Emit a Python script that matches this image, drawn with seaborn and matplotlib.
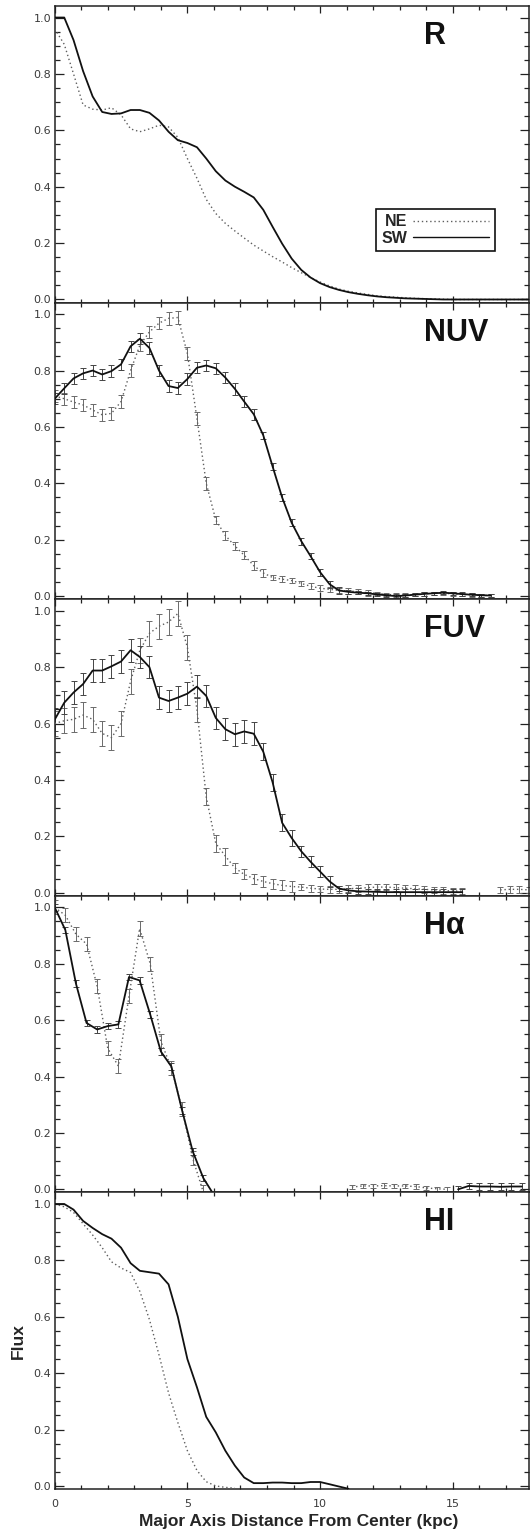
import numpy as np
import pandas as pd
import seaborn as sns
import matplotlib
matplotlib.use('Agg')
import matplotlib.pyplot as plt
from matplotlib.lines import Line2D
from matplotlib.ticker import MultipleLocator, FormatStrFormatter

nan = np.nan

# radial sampling (kpc)
X = [0.00, 0.36, 0.71, 1.07, 1.43, 1.79, 2.14, 2.50, 2.86, 3.21, 3.57, 3.93,
     4.29, 4.64, 5.00, 5.36, 5.71, 6.07, 6.43, 6.79, 7.14, 7.50, 7.86, 8.21,
     8.57, 8.93, 9.29, 9.64, 10.00, 10.36, 10.71, 11.07, 11.43, 11.79, 12.14,
     12.50, 12.86, 13.21, 13.57, 13.93, 14.29, 14.64, 15.00, 15.36, 15.71,
     16.07, 16.43, 16.79, 17.14, 17.50, 17.86]
X_HA = [0.0, 0.4, 0.8, 1.2, 1.6, 2.0, 2.4, 2.8, 3.2, 3.6, 4.0, 4.4, 4.8, 5.2,
        5.6, 6.0, 6.4, 6.8, 7.2, 7.6, 8.0, 8.4, 8.8, 9.2, 9.6, 10.0, 10.4,
        10.8, 11.2, 11.6, 12.0, 12.4, 12.8, 13.2, 13.6, 14.0, 14.4, 14.8, 15.2,
        15.6, 16.0, 16.4, 16.8, 17.2, 17.6]

# R band
R_NE = [0.96, 0.905, 0.80, 0.69, 0.675, 0.672, 0.68, 0.655, 0.605, 0.595,
        0.605, 0.618, 0.612, 0.575, 0.50, 0.43, 0.355, 0.305, 0.27, 0.243,
        0.218, 0.193, 0.172, 0.152, 0.133, 0.113, 0.095, 0.078, 0.062, 0.048,
        0.037, 0.029, 0.023, 0.018, 0.013, 0.010, 0.008, 0.006, 0.004, 0.003,
        0.002, 0.001, 0.0, 0.0, 0.0, 0.0, 0.0, 0.0, 0.0, 0.0, 0.0]
R_SW = [1.0, 1.0, 0.92, 0.81, 0.72, 0.665, 0.658, 0.66, 0.672, 0.672, 0.662,
        0.635, 0.595, 0.565, 0.555, 0.54, 0.50, 0.455, 0.422, 0.40, 0.382,
        0.362, 0.318, 0.258, 0.198, 0.145, 0.105, 0.078, 0.058, 0.044, 0.034,
        0.026, 0.020, 0.015, 0.011, 0.008, 0.006, 0.004, 0.003, 0.002, 0.001,
        0.0, 0.0, 0.0, 0.0, 0.0, 0.0, 0.0, 0.0, 0.0, 0.0]

# NUV
NUV_NE = [0.71, 0.70, 0.688, 0.678, 0.66, 0.643, 0.648, 0.69, 0.80, 0.89, 0.937,
          0.968, 0.985, 0.988, 0.86, 0.63, 0.40, 0.27, 0.215, 0.178, 0.145,
          0.108, 0.082, 0.066, 0.06, 0.055, 0.045, 0.035, 0.028, 0.024, 0.02,
          0.018, 0.016, 0.012, 0.01, 0.006, 0.004, 0.004, 0.006, 0.008, 0.01,
          0.01, 0.008, 0.006, 0.004, 0.003, 0.002]
NUV_NE_ERR = [0.022] * 17 + [0.015] * 6 + [0.01] * 11 + [0.006] * 13
NUV_SW = [0.70, 0.737, 0.772, 0.79, 0.80, 0.786, 0.798, 0.822, 0.886, 0.913, 0.88,
          0.80, 0.745, 0.738, 0.77, 0.81, 0.818, 0.808, 0.775, 0.735, 0.69,
          0.645, 0.57, 0.46, 0.35, 0.26, 0.195, 0.142, 0.085, 0.042, 0.02,
          0.015, 0.012, 0.01, 0.006, 0.003, 0.0, 0.002, 0.005, 0.008, 0.01,
          0.012, 0.01, 0.007, 0.005, 0.003, 0.002]
NUV_SW_ERR = [0.02] * 22 + [0.012] * 9 + [0.006] * 16

# FUV
FUV_NE = [0.60, 0.61, 0.615, 0.63, 0.615, 0.565, 0.55, 0.60, 0.75, 0.86, 0.92,
          0.945, 0.96, 0.99, 0.87, 0.65, 0.34, 0.175, 0.13, 0.088, 0.065,
          0.05, 0.04, 0.032, 0.026, 0.022, 0.02, 0.016, 0.013, 0.012, 0.012,
          0.014, 0.016, 0.018, 0.02, 0.02, 0.018, 0.016, 0.014, 0.012, 0.01,
          0.008, 0.006, 0.006, nan, nan, nan, 0.01, 0.012, 0.012, 0.01]
FUV_NE_ERR = [0.045] * 16 + [0.03] * 3 + [0.018] * 7 + [0.012] * 25
FUV_SW = [0.614, 0.674, 0.71, 0.74, 0.788, 0.788, 0.803, 0.82, 0.86, 0.836, 0.80,
          0.692, 0.68, 0.692, 0.706, 0.731, 0.698, 0.62, 0.58, 0.562, 0.572,
          0.564, 0.50, 0.392, 0.248, 0.194, 0.147, 0.11, 0.075, 0.04, 0.015,
          0.008, 0.005, 0.004, 0.003, 0.002, 0.002, 0.002, 0.002, 0.002, 0.002,
          0.002, 0.002, 0.002]
FUV_SW_ERR = [0.04] * 22 + [0.03] * 4 + [0.02] * 4 + [0.01] * 14

# H-alpha
HA_NE = ([1.0, 0.972, 0.905, 0.87, 0.72, 0.50, 0.437, 0.685, 0.925, 0.80,
          0.525, 0.43, 0.285, 0.11, -0.01] + [nan] * 13 +
         [0.008, 0.012, 0.012, 0.013, 0.012, 0.012, 0.01, 0.005, 0.002, 0.0])
HA_NE_ERR = [0.025] * 15 + [0.008] * 23
HA_SW = ([1.0, 0.92, 0.73, 0.59, 0.567, 0.579, 0.585, 0.753, 0.741, 0.62,
          0.489, 0.435, 0.28, 0.135, 0.04, -0.02] + [nan] * 22 +
         [0.0, 0.012, 0.01, 0.01, 0.009, 0.01, 0.01])
HA_SW_ERR = [0.012] * 45

# HI
HI_NE = [1.0, 0.99, 0.97, 0.93, 0.89, 0.845, 0.795, 0.773, 0.757, 0.69, 0.59,
         0.465, 0.33, 0.225, 0.125, 0.055, 0.015, 0.0, -0.005, -0.008]
HI_SW = [1.0, 1.0, 0.98, 0.94, 0.915, 0.893, 0.877, 0.845, 0.79, 0.763, 0.758,
         0.753, 0.715, 0.60, 0.45, 0.35, 0.245, 0.19, 0.125, 0.072, 0.03,
         0.01, 0.01, 0.012, 0.012, 0.01, 0.01, 0.014, 0.014, 0.006, -0.002, -0.01]

PANELS = [
    ('R',   X,    R_NE,   None,       R_SW,   None),
    ('NUV', X,    NUV_NE, NUV_NE_ERR, NUV_SW, NUV_SW_ERR),
    ('FUV', X,    FUV_NE, FUV_NE_ERR, FUV_SW, FUV_SW_ERR),
    ('H\u03b1', X_HA, HA_NE, HA_NE_ERR, HA_SW, HA_SW_ERR),
    ('HI',  X,    HI_NE,  None,       HI_SW,  None),
]

NE_COLOR = '#5e5e5e'
SW_COLOR = '#111111'
NE_LS = (0, (1.0, 2.0))

sns.set_theme(style='ticks')
plt.rcParams['font.family'] = ['Liberation Sans', 'DejaVu Sans']
plt.rcParams['axes.linewidth'] = 1.1
plt.rcParams['axes.edgecolor'] = '#222222'


def trace(ax, xs, ys, err, color, ls, lw, ecolor):
    n = len(ys)
    df = pd.DataFrame({'x': xs[:n], 'y': ys})
    df['seg'] = df['y'].isna().cumsum()
    df = df.dropna()
    sns.lineplot(data=df, x='x', y='y', units='seg', estimator=None,
                 color=color, linestyle=ls, lw=lw, ax=ax, zorder=3)
    if err is not None:
        m = min(n, len(err))
        ax.errorbar(xs[:m], ys[:m], yerr=err[:m], fmt='none', ecolor=ecolor,
                    elinewidth=0.7, capsize=2.0, capthick=0.7, zorder=2)


fig, axes = plt.subplots(5, 1, figsize=(5.3, 15.31), dpi=100, sharex=True)
fig.subplots_adjust(left=0.1032, right=0.998, top=0.9961, bottom=0.0274, hspace=0)

for ax, (name, xs, ne, ne_err, sw, sw_err) in zip(axes, PANELS):
    trace(ax, xs, ne, ne_err, NE_COLOR, NE_LS, 1.0, '#6a6a6a')
    trace(ax, xs, sw, sw_err, SW_COLOR, '-', 1.3, '#444444')

    ax.set_xlim(0, 17.87)
    ax.set_ylim(-0.011, 1.041)
    ax.set_xlabel('')
    ax.set_ylabel('')
    ax.xaxis.set_major_locator(MultipleLocator(5))
    ax.xaxis.set_minor_locator(MultipleLocator(1))
    ax.yaxis.set_major_locator(MultipleLocator(0.2))
    ax.yaxis.set_minor_locator(MultipleLocator(0.05))
    ax.yaxis.set_major_formatter(FormatStrFormatter('%.1f'))
    ax.tick_params(which='both', direction='in', top=True, right=True,
                   width=0.9, color='#222222')
    ax.tick_params(axis='x', which='major', length=5, pad=7)
    ax.tick_params(axis='x', which='minor', length=3)
    ax.tick_params(axis='y', which='major', length=6.5, pad=2.5)
    ax.tick_params(axis='y', which='minor', length=3.5)
    for lab in ax.get_xticklabels() + ax.get_yticklabels():
        lab.set_fontfamily('DejaVu Sans')
        lab.set_fontsize(8)
        lab.set_color('#3a3a3a')

    ax.text(0.779, 0.872, name, transform=ax.transAxes, fontsize=22,
            fontweight='bold', ha='left', va='baseline', color='#111111')

handles = [Line2D([], [], color=NE_COLOR, linestyle=NE_LS, lw=1.0),
           Line2D([], [], color=SW_COLOR, linestyle='-', lw=1.0)]
leg = axes[0].legend(handles, ['NE', 'SW'], loc='center',
                     bbox_to_anchor=(0.803, 0.245), markerfirst=False,
                     prop={'weight': 'bold', 'size': 11.5}, frameon=True,
                     fancybox=False, framealpha=1, edgecolor='#111111',
                     borderpad=0.35, labelspacing=0.1, handlelength=4.8,
                     handletextpad=0.3)
leg.get_frame().set_linewidth(1.2)

axes[-1].set_xlabel('Major Axis Distance From Center (kpc)', fontsize=12.5,
                    fontweight='bold', va='center')
axes[-1].xaxis.set_label_coords(0.514, -0.11)
axes[-1].set_ylabel('Flux', fontsize=12.5, fontweight='bold', va='center')
axes[-1].yaxis.set_label_coords(-0.076, 0.5)

fig.savefig('out.png', dpi=100)
